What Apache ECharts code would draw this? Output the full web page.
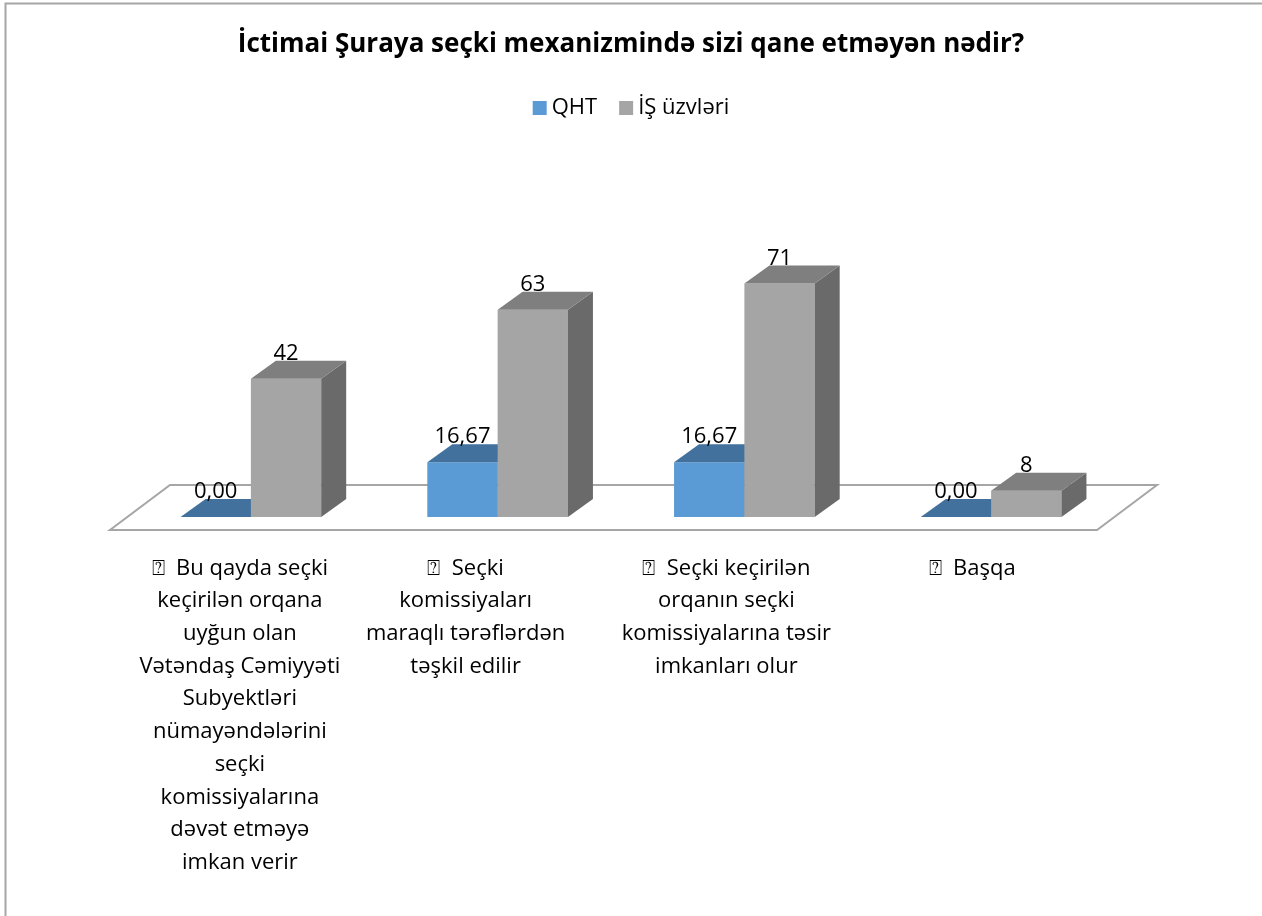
<!DOCTYPE html>
<html>
<head>
<meta charset="utf-8">
<script src="https://cdn.jsdelivr.net/npm/echarts@6/dist/echarts.min.js"></script>
<style>
html, body { margin: 0; padding: 0; background: #fff; }
#chart { width: 1262px; height: 916px; }
</style>
</head>
<body>
<div id="chart"></div>
<script>
// chart data
const categories = [
    '\u2370  Bu qayda seçki\nkeçirilən orqana\nuyğun olan\nVətəndaş Cəmiyyəti\nSubyektləri\nnümayəndələrini\nseçki\nkomissiyalarına\ndəvət etməyə\nimkan verir',
    '\u2370  Seçki\nkomissiyaları\nmaraqlı tərəflərdən\ntəşkil edilir',
    '\u2370  Seçki keçirilən\norqanın seçki\nkomissiyalarına təsir\nimkanları olur',
    '\u2370  Başqa'
];
const qhtValues = [0, 16.67, 16.67, 0];
const isValues = [42, 63, 71, 8];
const seriesNames = ['QHT', 'İŞ üzvləri'];

// label nudges (px to the left) so the text sits like in the original
const labelShift = [11, 32, 18, 19];

const FONT = '"Open Sans", "DejaVu Sans", sans-serif';
const DX = 25, DY = -18;   // bar depth

function makeBar(side, front, top, dark, fmt) {
    return function (params, api) {
        const idx = api.value(0);
        const v = api.value(1);
        const base = api.coord([idx, 0]);
        const tp = api.coord([idx, v]);
        const band = api.size([1, 0])[0];
        const w = band * 0.285;
        const x0 = side < 0 ? base[0] - w : base[0];
        const x1 = x0 + w;
        const yb = base[1], yt = tp[1];
        return {
            type: 'group',
            children: [
                { type: 'rect', shape: { x: x0, y: yt, width: w, height: yb - yt }, style: { fill: front } },
                { type: 'polygon', shape: { points: [[x1, yt], [x1 + DX, yt + DY], [x1 + DX, yb + DY], [x1, yb]] }, style: { fill: dark } },
                { type: 'polygon', shape: { points: [[x0, yt], [x1, yt], [x1 + DX, yt + DY], [x0 + DX, yt + DY]] }, style: { fill: top } },
                {
                    type: 'text',
                    style: {
                        text: fmt(v), x: (x0 + x1) / 2, y: yt + DY + 4,
                        textAlign: 'center', textVerticalAlign: 'bottom',
                        font: '22px ' + FONT, fill: '#000'
                    }
                }
            ]
        };
    };
}

function floorItem(params, api) {
    const cs = params.coordSys;
    const yb = cs.y + cs.height;
    const fx = -17.5, fy = 13, bx = 42.5, by = -32;
    return {
        type: 'polygon',
        shape: {
            points: [
                [cs.x + fx, yb + fy], [cs.x + cs.width + fx, yb + fy],
                [cs.x + cs.width + bx, yb + by], [cs.x + bx, yb + by]
            ]
        },
        style: { fill: '#fff', stroke: '#a6a6a6', lineWidth: 2 }
    };
}

const chart = echarts.init(document.getElementById('chart'));
chart.setOption({
    animation: false,
    title: {
        text: 'İctimai Şuraya seçki mexanizmində sizi qane etməyən nədir?',
        left: 'center',
        top: 27,
        textStyle: { fontFamily: FONT, fontSize: 26, fontWeight: 'bold', color: '#000' }
    },
    legend: {
        data: seriesNames,
        top: 92,
        left: 'center',
        icon: 'rect',
        itemWidth: 14,
        itemHeight: 14,
        itemGap: 22,
        textStyle: { fontFamily: FONT, fontSize: 22, color: '#000' }
    },
    graphic: [{
        type: 'rect',
        shape: { x: 5.5, y: 3.5, width: 1400, height: 1000 },
        style: { fill: 'none', stroke: '#a6a6a6', lineWidth: 2 },
        silent: true
    }],
    grid: { left: 127.5, right: 147.5, top: 188, bottom: 399 },
    xAxis: {
        type: 'category',
        data: categories.map((c, i) => ({
            value: c,
            textStyle: { padding: [0, labelShift[i] * 2, 0, 0] }
        })),
        axisLine: { show: false },
        axisTick: { show: false },
        axisLabel: {
            interval: 0,
            margin: 35,
            fontFamily: FONT,
            fontSize: 22,
            lineHeight: 32.7,
            color: '#000',
            align: 'center'
        }
    },
    yAxis: {
        type: 'value',
        min: 0,
        max: 100,
        show: false,
        splitLine: { show: false }
    },
    series: [
        {
            type: 'custom',
            name: 'floor',
            silent: true,
            z: 1,
            renderItem: floorItem,
            data: [[0, 0]]
        },
        {
            type: 'custom',
            name: seriesNames[0],
            z: 2,
            itemStyle: { color: '#5b9bd5' },
            renderItem: makeBar(-1, '#5b9bd5', '#41719c', '#3b6790', v => v.toFixed(2).replace('.', ',')),
            encode: { x: 0, y: 1 },
            data: qhtValues.map((v, i) => [i, v])
        },
        {
            type: 'custom',
            name: seriesNames[1],
            z: 3,
            itemStyle: { color: '#a5a5a5' },
            renderItem: makeBar(1, '#a5a5a5', '#7f7f7f', '#6a6a6a', v => String(v)),
            encode: { x: 0, y: 1 },
            data: isValues.map((v, i) => [i, v])
        }
    ]
});
</script>
</body>
</html>
